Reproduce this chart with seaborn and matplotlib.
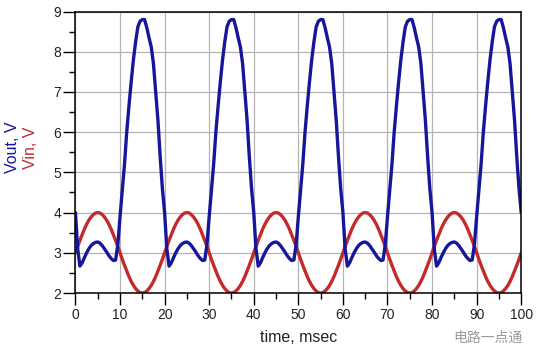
import numpy as np
import pandas as pd
import matplotlib
matplotlib.use("Agg")
import matplotlib.pyplot as plt
import seaborn as sns
from matplotlib.ticker import MultipleLocator

vout_period = [4.00, 3.10, 2.67, 2.75, 2.88, 3.00, 3.10, 3.18, 3.23, 3.26,
               3.27, 3.24, 3.18, 3.10, 3.02, 2.93, 2.86, 2.81, 2.82, 3.20,
               3.90, 4.55, 5.20, 6.00, 6.65, 7.25, 7.80, 8.25, 8.62, 8.76,
               8.80, 8.80, 8.60, 8.35, 8.12, 7.70, 7.00, 6.30, 5.40, 4.60]
vin_period = [3.00, 3.16, 3.31, 3.45, 3.59, 3.71, 3.81, 3.89, 3.95, 3.99,
              4.00, 3.99, 3.95, 3.89, 3.81, 3.71, 3.59, 3.45, 3.31, 3.16,
              3.00, 2.84, 2.69, 2.55, 2.41, 2.29, 2.19, 2.11, 2.05, 2.01,
              2.00, 2.01, 2.05, 2.11, 2.19, 2.29, 2.41, 2.55, 2.69, 2.84]
n_periods = 5
step_ms = 0.5

vout = vout_period * n_periods + [vout_period[0]]
vin = vin_period * n_periods + [vin_period[0]]
time_ms = np.arange(len(vout)) * step_ms

df = pd.DataFrame({"time": time_ms, "Vout": vout, "Vin": vin})

blue = "#16169a"
red = "#c42a2a"

sns.set_style("white")
plt.rcParams["font.family"] = ["Liberation Sans", "DejaVu Sans"]

fig = plt.figure(figsize=(5.39, 3.60), dpi=100)
ax = fig.add_axes([0.140, 0.186, 0.827, 0.782])

sns.lineplot(data=df, x="time", y="Vin", color=red, linewidth=2.4, ax=ax)
sns.lineplot(data=df, x="time", y="Vout", color=blue, linewidth=2.4, ax=ax)

ax.set_xlim(0, 100)
ax.set_ylim(2, 9)
ax.xaxis.set_major_locator(MultipleLocator(10))
ax.xaxis.set_minor_locator(MultipleLocator(5))
ax.yaxis.set_major_locator(MultipleLocator(1))
ax.yaxis.set_minor_locator(MultipleLocator(0.5))
ax.grid(True, which="major", color="#b4b4b4", linewidth=0.9)
ax.set_axisbelow(True)
ax.tick_params(which="both", bottom=True, left=True, top=False, right=False)
ax.tick_params(which="major", direction="out", length=8.5, width=1.0,
               labelsize=10, color="black", labelcolor="#222222", pad=2)
ax.tick_params(which="minor", direction="out", length=4.3, width=1.0,
               color="black")
for s in ax.spines.values():
    s.set_color("black")
    s.set_linewidth(1.1)

ax.set_xlabel("time, msec", fontsize=11.5, labelpad=6, color="#222222")
ax.set_ylabel("")

fig.text(0.024, 0.59, "Vout, V", rotation=90, color=blue, fontsize=11.5,
         ha="center", va="center")
fig.text(0.056, 0.59, "Vin, V", rotation=90, color=red, fontsize=11.5,
         ha="center", va="center")
fig.text(0.97, 0.063, "电路一点通", color="#9a9a9a", fontsize=10,
         ha="right", va="center", family=["Noto Sans CJK SC", "DejaVu Sans"])

fig.savefig("out.png", dpi=100)
